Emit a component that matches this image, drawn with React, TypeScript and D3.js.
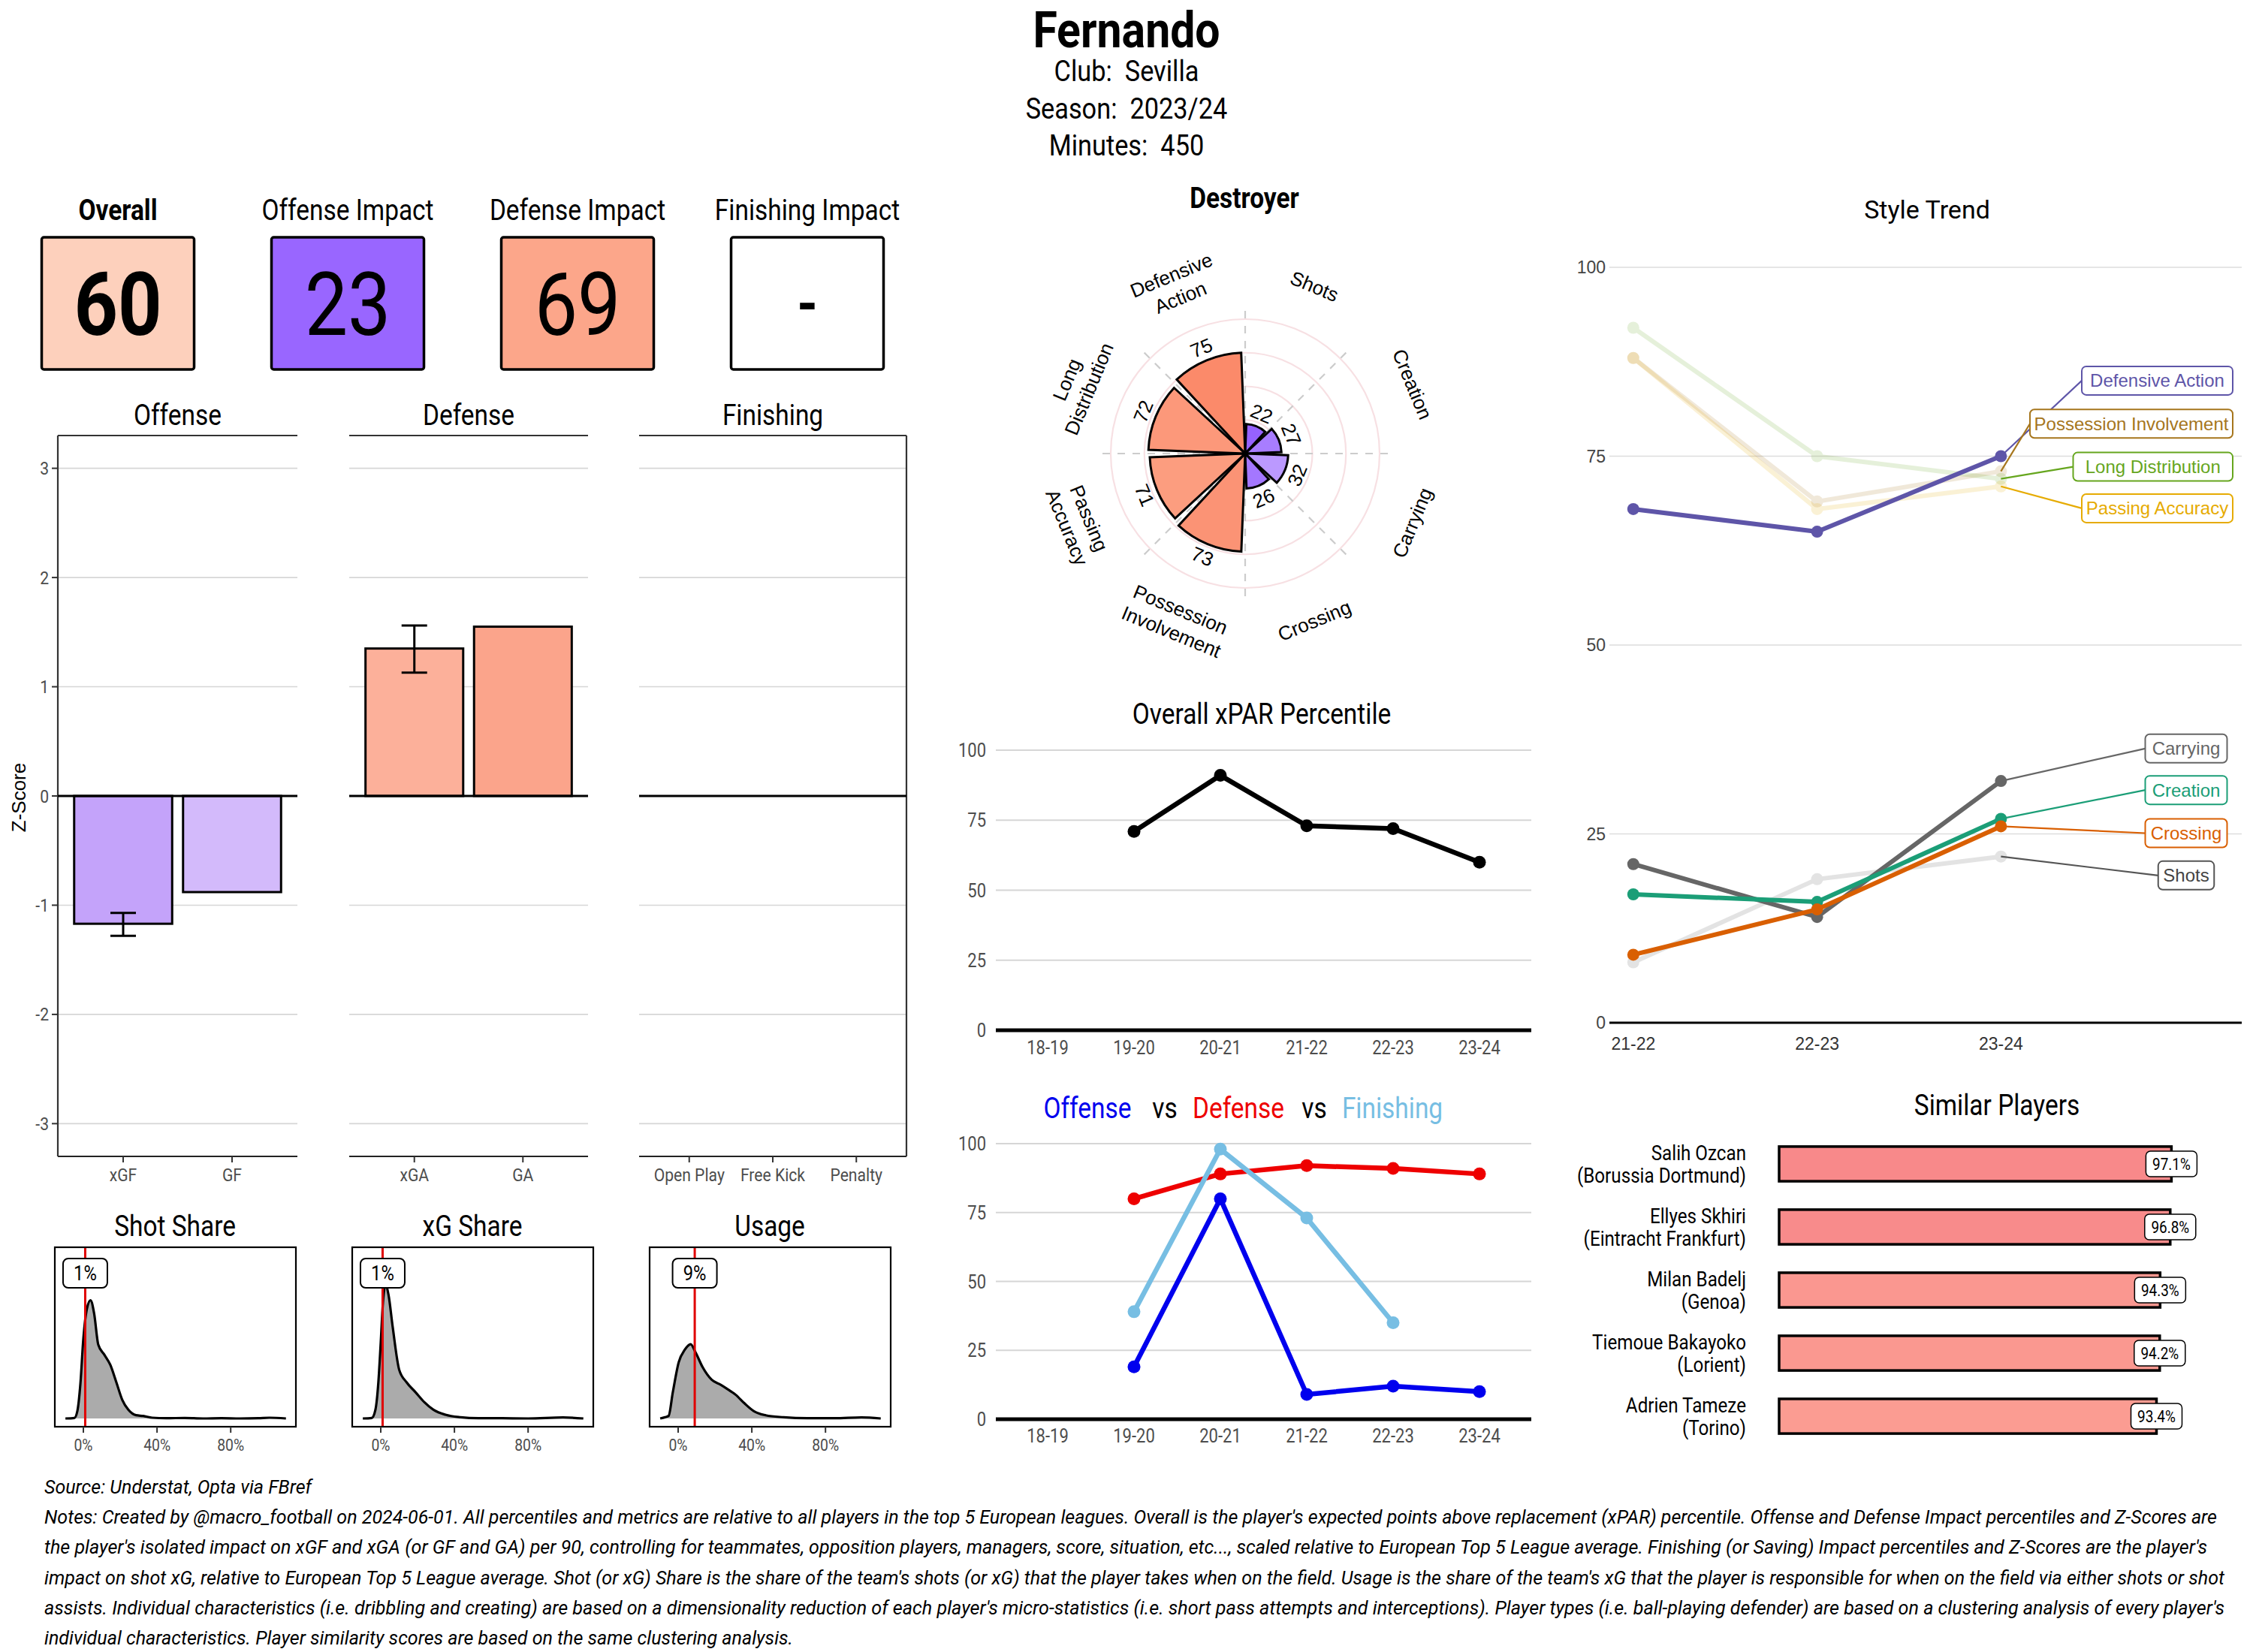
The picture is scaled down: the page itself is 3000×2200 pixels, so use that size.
import React from "react";
import * as d3 from "d3";

// ---------------- data ----------------
const playerName = "Fernando";
const infoLines = ["Club:  Sevilla", "Season:  2023/24", "Minutes:  450"];

const impactLabels = ["Overall", "Offense Impact", "Defense Impact", "Finishing Impact"];
const impactValues: (number | null)[] = [60, 23, 69, null];

const zTicks = [-3, -2, -1, 0, 1, 2, 3];
const offenseCats = ["xGF", "GF"];
const offenseZ = [-1.17, -0.88];
const offenseErr: ([number, number] | null)[] = [[-1.28, -1.07], null];
const defenseCats = ["xGA", "GA"];
const defenseZ = [1.35, 1.55];
const defenseErr: ([number, number] | null)[] = [[1.13, 1.56], null];
const finishingCats = ["Open Play", "Free Kick", "Penalty"];
const finishingZ = [0, 0, 0];
const finishingErr: ([number, number] | null)[] = [null, null, null];

const distTicks = [0, 0.4, 0.8];
const shotShareX = [-0.0975, -0.049, -0.0325, -0.016, 0, 0.0195, 0.039, 0.0585, 0.081, 0.114, 0.146, 0.179, 0.211, 0.244, 0.286, 0.325, 0.374, 0.45, 0.55, 0.65, 0.75, 0.85, 0.95, 1.01, 1.1];
const shotShareD = [0, 0.02, 0.3, 1.4, 3.2, 4.4, 4.73, 4.2, 2.95, 2.55, 2.15, 1.45, 0.75, 0.35, 0.13, 0.1, 0.03, 0.01, 0.02, 0, 0.01, 0, 0.01, 0.03, 0];
const xgShareX = [-0.0975, -0.049, -0.029, -0.013, 0, 0.013, 0.026, 0.042, 0.065, 0.1, 0.14, 0.189, 0.237, 0.286, 0.351, 0.432, 0.53, 0.65, 0.8, 0.99, 1.1];
const xgShareD = [0, 0.02, 0.35, 1.45, 3.05, 4.75, 5.35, 4.95, 3.65, 1.95, 1.45, 1.05, 0.65, 0.35, 0.15, 0.05, 0.01, 0.01, 0, 0.04, 0];
const usageX = [-0.0975, -0.0715, -0.052, -0.029, 0.003, 0.036, 0.068, 0.094, 0.133, 0.182, 0.231, 0.263, 0.312, 0.361, 0.41, 0.475, 0.572, 0.702, 0.85, 0.995, 1.1];
const usageD = [0, 0.05, 0.1, 1.05, 2.25, 2.75, 2.97, 2.65, 2.05, 1.55, 1.35, 1.2, 0.95, 0.6, 0.3, 0.13, 0.05, 0.01, 0.01, 0.04, 0];
const distTitles = ["Shot Share", "xG Share", "Usage"];
const distPlayer = [0.01, 0.01, 0.09];

const radarCats = ["Shots", "Creation", "Carrying", "Crossing", "Possession Involvement", "Passing Accuracy", "Long Distribution", "Defensive Action"];
const radarValues = [22, 27, 32, 26, 73, 71, 72, 75];
const radarGrid = [25, 50, 75, 100];

const seasons = ["18-19", "19-20", "20-21", "21-22", "22-23", "23-24"];
const xparPct: (number | null)[] = [null, 71, 91, 73, 72, 60];
const offensePct: (number | null)[] = [null, 19, 80, 9, 12, 10];
const defensePct: (number | null)[] = [null, 80, 89, 92, 91, 89];
const finishingPct: (number | null)[] = [null, 39, 98, 73, 35, null];
const pctTicks = [0, 25, 50, 75, 100];

const styleSeasons = ["21-22", "22-23", "23-24"];
const styleNames = ["Defensive Action", "Possession Involvement", "Long Distribution", "Passing Accuracy", "Carrying", "Creation", "Crossing", "Shots"];
const styleValues = [
  [68, 65, 75],
  [88, 69, 73],
  [92, 75, 72],
  [88, 68, 71],
  [21, 14, 32],
  [17, 16, 27],
  [9, 15, 26],
  [8, 19, 22],
];
const styleHighlighted = [true, false, false, false, true, true, true, false];

const similarNames = ["Salih Ozcan", "Ellyes Skhiri", "Milan Badelj", "Tiemoue Bakayoko", "Adrien Tameze"];
const similarClubs = ["Borussia Dortmund", "Eintracht Frankfurt", "Genoa", "Lorient", "Torino"];
const similarScores = [97.1, 96.8, 94.3, 94.2, 93.4];

const sourceLine = "Source: Understat, Opta via FBref";
const noteLines = [
  "Notes: Created by @macro_football on 2024-06-01. All percentiles and metrics are relative to all players in the top 5 European leagues. Overall is the player's expected points above replacement (xPAR) percentile. Offense and Defense Impact percentiles and Z-Scores are",
  "the player's isolated impact on xGF and xGA (or GF and GA) per 90, controlling for teammates, opposition players, managers, score, situation, etc..., scaled relative to European Top 5 League average. Finishing (or Saving) Impact percentiles and Z-Scores are the player's",
  "impact on shot xG, relative to European Top 5 League average. Shot (or xG) Share is the share of the team's shots (or xG) that the player takes when on the field. Usage is the share of the team's xG that the player is responsible for when on the field via either shots or shot",
  "assists. Individual characteristics (i.e. dribbling and creating) are based on a dimensionality reduction of each player's micro-statistics (i.e. short pass attempts and interceptions). Player types (i.e. ball-playing defender) are based on a clustering analysis of every player's",
  "individual characteristics. Player similarity scores are based on the same clustering analysis.",
];

// ---------------- layout / style ----------------
const W = 3000;
const H = 2200;
const COND = 0.88;
const CFONT = "Roboto, 'Noto Sans', sans-serif";
const ARIAL = "'Liberation Sans', Arial, sans-serif";
const GRID = "#D6D6D6";
const TICK = "#4D4D4D";

const styleColors = ["#5E55A8", "#A6761D", "#66A61E", "#E6AB02", "#666666", "#1B9E77", "#D95F02", "#555555"];
// label box placement for the style trend (x in px, y in value units)
const styleLabelX = [2973, 2973, 2973, 2973, 2911, 2911, 2911, 2911];
const styleLabelAlign = ["end", "end", "end", "end", "mid", "mid", "mid", "mid"];
const styleLabelY = [85.0, 79.3, 73.6, 68.1, 36.3, 30.8, 25.1, 19.5];
const noteWidths = [2893, 2880, 2903, 2903, 997];

const pctColor = d3
  .scaleLinear<string>()
  .domain([0, 23, 50, 60, 69, 75, 100])
  .range(["#5000FF", "#9966FF", "#FFFFFF", "#FDD0BC", "#FCA68A", "#FB8A6A", "#F5431A"])
  .clamp(true);
const zColor = d3.scaleLinear<string>().domain([-3, 0, 3]).range(["#6813F2", "#FFFFFF", "#F84F1F"]).clamp(true);

type TProps = {
  x: number;
  y: number;
  size: number;
  anchor?: "start" | "middle" | "end";
  weight?: number;
  fill?: string;
  italic?: boolean;
  rotate?: number;
  sx?: number;
  family?: string;
  children: React.ReactNode;
};

// condensed-looking text
const CT = ({ x, y, size, anchor = "middle", weight = 400, fill = "#000", italic = false, rotate = 0, sx = COND, family = CFONT, children }: TProps) => (
  <text
    transform={`translate(${x},${y}) rotate(${rotate}) scale(${sx},1)`}
    fontFamily={family}
    fontSize={size}
    fontWeight={weight}
    fontStyle={italic ? "italic" : "normal"}
    textAnchor={anchor}
    fill={fill}
    style={{ whiteSpace: "pre" }}
  >
    {children}
  </text>
);

// ---------------- header + impact boxes ----------------
const Header = () => (
  <g>
    <CT x={1500} y={63} size={67} weight={700}>
      {playerName}
    </CT>
    {infoLines.map((t, i) => (
      <CT key={t} x={1500} y={108 + i * 49.5} size={39}>
        {t}
      </CT>
    ))}
  </g>
);

const ImpactBoxes = () => {
  const xs = d3.scalePoint<string>().domain(impactLabels).range([157, 1075]);
  return (
    <g>
      {impactLabels.map((lab, i) => {
        const cx = xs(lab)!;
        const v = impactValues[i];
        return (
          <g key={lab}>
            <CT x={cx} y={293} size={38} weight={i === 0 ? 700 : 400}>
              {lab}
            </CT>
            <rect x={cx - 101.5} y={316} width={203} height={176} rx={3} fill={v == null ? "#FFFFFF" : pctColor(v)} stroke="#000" strokeWidth={3.5} />
            <CT x={cx} y={v == null ? 432 : 446} size={v == null ? 80 : 116} weight={i === 0 || v == null ? 700 : 400}>
              {v == null ? "-" : String(v)}
            </CT>
          </g>
        );
      })}
    </g>
  );
};

// ---------------- z-score panels ----------------
const zY = d3.scaleLinear().domain([-3.3, 3.3]).range([1540, 580]);

type ZProps = { x0: number; x1: number; title: string; cats: string[]; vals: number[]; errs: ([number, number] | null)[]; left?: boolean; right?: boolean };
const ZPanel = ({ x0, x1, title, cats, vals, errs, left, right }: ZProps) => {
  const x = d3.scalePoint<string>().domain(cats).range([x0, x1]).padding(0.6);
  const bw = x.step() * 0.9;
  const top = zY.range()[1];
  const bottom = zY.range()[0];
  return (
    <g>
      <CT x={(x0 + x1) / 2} y={566} size={38}>
        {title}
      </CT>
      {zTicks.map((t) => (
        <line key={t} x1={x0} x2={x1} y1={zY(t)} y2={zY(t)} stroke={GRID} strokeWidth={1.6} />
      ))}
      <line x1={x0} x2={x1} y1={top} y2={top} stroke="#333" strokeWidth={2.2} />
      <line x1={x0} x2={x1} y1={bottom} y2={bottom} stroke="#222" strokeWidth={2.2} />
      {left && <line x1={x0} x2={x0} y1={top} y2={bottom} stroke="#333" strokeWidth={2.2} />}
      {right && <line x1={x1} x2={x1} y1={top} y2={bottom} stroke="#333" strokeWidth={2.2} />}
      {left &&
        zTicks.map((t) => (
          <g key={t}>
            <line x1={x0 - 8} x2={x0} y1={zY(t)} y2={zY(t)} stroke="#333" strokeWidth={2} />
            <CT x={x0 - 12} y={zY(t) + 8.5} size={24} anchor="end" fill={TICK}>
              {String(t)}
            </CT>
          </g>
        ))}
      {cats.map((c, i) => {
        const v = vals[i];
        const cx = x(c)!;
        return (
          <g key={c}>
            <rect x={cx - bw / 2} y={zY(Math.max(v, 0))} width={bw} height={Math.abs(zY(v) - zY(0))} fill={zColor(v)} stroke="#000" strokeWidth={3} />
            <line x1={cx} x2={cx} y1={bottom} y2={bottom + 8} stroke="#333" strokeWidth={2} />
            <CT x={cx} y={1573} size={24} fill={TICK}>
              {c}
            </CT>
          </g>
        );
      })}
      <line x1={x0} x2={x1} y1={zY(0)} y2={zY(0)} stroke="#000" strokeWidth={3} />
      {cats.map((c, i) => {
        const e = errs[i];
        if (!e) return null;
        const cx = x(c)!;
        return (
          <g key={"e" + c} stroke="#000" strokeWidth={3}>
            <line x1={cx} x2={cx} y1={zY(e[0])} y2={zY(e[1])} />
            <line x1={cx - 17} x2={cx + 17} y1={zY(e[0])} y2={zY(e[0])} />
            <line x1={cx - 17} x2={cx + 17} y1={zY(e[1])} y2={zY(e[1])} />
          </g>
        );
      })}
    </g>
  );
};

// ---------------- distribution panels ----------------
const dY = d3.scaleLinear().domain([-0.33, 6.85]).range([1900, 1661]);
type DProps = { x0: number; title: string; xs: number[]; ds: number[]; value: number };
const DistPanel = ({ x0, title, xs, ds, value }: DProps) => {
  const x = d3.scaleLinear().domain([-0.155, 1.154]).range([x0, x0 + 321]);
  const pts = xs.map((v, i) => [v, ds[i]] as [number, number]);
  const area = d3
    .area<[number, number]>()
    .x((d) => x(d[0]))
    .y0(dY(0))
    .y1((d) => dY(d[1]))
    .curve(d3.curveMonotoneX);
  const line = d3
    .line<[number, number]>()
    .x((d) => x(d[0]))
    .y((d) => dY(d[1]))
    .curve(d3.curveMonotoneX);
  const vx = x(value);
  return (
    <g>
      <CT x={x0 + 160} y={1646} size={38}>
        {title}
      </CT>
      <path d={area(pts)!} fill="#ABABAB" />
      <path d={line(pts)!} fill="none" stroke="#000" strokeWidth={3.2} strokeLinejoin="round" />
      <line x1={vx} x2={vx} y1={1661} y2={1900} stroke="#E00000" strokeWidth={3} />
      <rect x={vx - 29.5} y={1676} width={59} height={39} rx={7} fill="#fff" stroke="#000" strokeWidth={2} />
      <CT x={vx} y={1705} size={27}>
        {`${Math.round(value * 100)}%`}
      </CT>
      <rect x={x0} y={1661} width={321} height={239} fill="none" stroke="#000" strokeWidth={2.2} />
      {distTicks.map((t) => (
        <g key={t}>
          <line x1={x(t)} x2={x(t)} y1={1900} y2={1908} stroke="#333" strokeWidth={2} />
          <CT x={x(t)} y={1932} size={22} fill={TICK}>
            {`${Math.round(t * 100)}%`}
          </CT>
        </g>
      ))}
    </g>
  );
};

// ---------------- radar ----------------
const Radar = () => {
  const cx = 1658;
  const cy = 604;
  const r = d3.scaleLinear().domain([0, 100]).range([0, 179]);
  const step = (2 * Math.PI) / radarCats.length;
  const pad = step * 0.05;
  const arc = d3.arc<any>();
  const pos = (a: number, rad: number) => [cx + rad * Math.sin(a), cy - rad * Math.cos(a)];
  const rotOf = (a: number) => {
    const deg = (a * 180) / Math.PI;
    return ((deg + 90) % 180) - 90;
  };
  return (
    <g>
      <CT x={1657} y={277} size={38} weight={700}>
        Destroyer
      </CT>
      {radarGrid.map((v) => (
        <circle key={v} cx={cx} cy={cy} r={r(v)} fill="none" stroke="#F7E0E3" strokeWidth={2.2} />
      ))}
      {radarCats.map((c, i) => {
        const [x2, y2] = pos(i * step, r(110));
        return <line key={c} x1={cx} y1={cy} x2={x2} y2={y2} stroke="#CCCCCC" strokeWidth={2.2} strokeDasharray="10,10" />;
      })}
      {radarCats.map((c, i) => (
        <path
          key={c}
          transform={`translate(${cx},${cy})`}
          d={arc({ innerRadius: 0, outerRadius: r(radarValues[i]), startAngle: i * step + pad, endAngle: (i + 1) * step - pad })!}
          fill={pctColor(radarValues[i])}
          stroke="#000"
          strokeWidth={3}
        />
      ))}
      {radarCats.map((c, i) => {
        const a = (i + 0.5) * step;
        const [x, y] = pos(a, r(radarValues[i] + 10));
        return (
          <text key={c} transform={`translate(${x},${y}) rotate(${rotOf(a)})`} fontFamily={ARIAL} fontSize={26} textAnchor="middle" dominantBaseline="central">
            {radarValues[i]}
          </text>
        );
      })}
      {radarCats.map((c, i) => {
        const a = (i + 0.5) * step;
        const [x, y] = pos(a, 241);
        const words = c.split(" ");
        const lh = 32;
        return (
          <text key={c} transform={`translate(${x},${y}) rotate(${rotOf(a)})`} fontFamily={ARIAL} fontSize={26} textAnchor="middle" dominantBaseline="central">
            {words.map((w, k) => (
              <tspan key={w} x={0} y={(k - (words.length - 1) / 2) * lh}>
                {w}
              </tspan>
            ))}
          </text>
        );
      })}
    </g>
  );
};

// ---------------- season charts ----------------
const seasonX = d3.scalePoint<string>().domain(seasons).range([1326, 2039]).padding(0.6);
type SProps = { y0: number; y100: number; series: { vals: (number | null)[]; color: string }[]; labelY: number };
const SeasonChart = ({ y0, y100, series, labelY }: SProps) => {
  const y = d3.scaleLinear().domain([0, 100]).range([y0, y100]);
  const line = d3
    .line<number | null>()
    .defined((d) => d != null)
    .x((_, i) => seasonX(seasons[i])!)
    .y((d) => y(d as number));
  return (
    <g>
      {pctTicks.map((t) => (
        <g key={t}>
          {t > 0 && <line x1={1326} x2={2039} y1={y(t)} y2={y(t)} stroke={GRID} strokeWidth={2} />}
          <CT x={1313} y={y(t) + 9} size={25} anchor="end" fill={TICK}>
            {String(t)}
          </CT>
        </g>
      ))}
      <line x1={1326} x2={2039} y1={y(0)} y2={y(0)} stroke="#000" strokeWidth={5} />
      {seasons.map((s) => (
        <CT key={s} x={seasonX(s)!} y={labelY} size={25} fill={TICK}>
          {s}
        </CT>
      ))}
      {series.map((s, k) => (
        <g key={k}>
          <path d={line(s.vals)!} fill="none" stroke={s.color} strokeWidth={6.5} strokeLinejoin="round" />
          {s.vals.map((v, i) => (v == null ? null : <circle key={i} cx={seasonX(seasons[i])!} cy={y(v)} r={8.5} fill={s.color} />))}
        </g>
      ))}
    </g>
  );
};

// ---------------- style trend ----------------
const StyleTrend = () => {
  const xi = d3.scaleLinear().domain([-0.13, 3.31]).range([2143, 2985]);
  const y = d3.scaleLinear().domain([0, 100]).range([1362, 356]);
  const line = d3
    .line<number>()
    .x((_, i) => xi(i))
    .y((d) => y(d));
  const order = styleNames.map((_, i) => i).sort((a, b) => Number(styleHighlighted[a]) - Number(styleHighlighted[b]));
  return (
    <g>
      <text x={2566} y={291} fontFamily={CFONT} fontSize={34} textAnchor="middle">
        Style Trend
      </text>
      {pctTicks.map((t) => (
        <g key={t}>
          {t > 0 && <line x1={2143} x2={2985} y1={y(t)} y2={y(t)} stroke="#DDDDDD" strokeWidth={1.6} />}
          <text x={2138} y={y(t) + 8} fontFamily={ARIAL} fontSize={23} textAnchor="end" fill="#444">
            {t}
          </text>
        </g>
      ))}
      <line x1={2143} x2={2985} y1={y(0)} y2={y(0)} stroke="#000" strokeWidth={3.2} />
      {styleSeasons.map((s, i) => (
        <text key={s} x={xi(i)} y={1398} fontFamily={ARIAL} fontSize={23} textAnchor="middle" fill="#333">
          {s}
        </text>
      ))}
      {order.map((k) => {
        const vals = styleValues[k];
        const op = styleHighlighted[k] ? 1 : 0.16;
        return (
          <g key={styleNames[k]} opacity={op}>
            <path d={line(vals)!} fill="none" stroke={styleColors[k]} strokeWidth={6} strokeLinejoin="round" />
            {vals.map((v, i) => (
              <circle key={i} cx={xi(i)} cy={y(v)} r={8} fill={styleColors[k]} />
            ))}
          </g>
        );
      })}
      {styleNames.map((n, k) => {
        const w = n.length * 11.5 + 17;
        const cxl = styleLabelAlign[k] === "end" ? styleLabelX[k] - w / 2 : styleLabelX[k];
        const cyl = y(styleLabelY[k]);
        const px = xi(2);
        const py = y(styleValues[k][2]);
        const col = styleColors[k];
        return (
          <g key={"l" + n}>
            <line x1={px} y1={py} x2={cxl - w / 2} y2={cyl} stroke={col} strokeWidth={2.2} />
            <rect x={cxl - w / 2} y={cyl - 19} width={w} height={38} rx={6} fill="#fff" stroke={col} strokeWidth={2} />
            <text x={cxl} y={cyl + 8.5} fontFamily={ARIAL} fontSize={24} textAnchor="middle" fill={k === 7 ? "#444" : col}>
              {n}
            </text>
          </g>
        );
      })}
    </g>
  );
};

// ---------------- similar players ----------------
const Similar = () => {
  const x = d3.scaleLinear().domain([0, 100]).range([2369, 2907]);
  const yb = d3.scaleBand<string>().domain(similarNames).range([1508, 1928]).paddingInner(0.45).paddingOuter(0.225);
  const col = d3.scaleLinear<string>().domain([93.4, 97.1]).range(["#FB9C92", "#F8898A"]);
  return (
    <g>
      <CT x={2659} y={1485} size={38}>
        Similar Players
      </CT>
      {similarNames.map((n, i) => {
        const y0 = yb(n)!;
        const bh = yb.bandwidth();
        const cy = y0 + bh / 2;
        const v = similarScores[i];
        return (
          <g key={n}>
            <CT x={2325} y={cy - 5} size={27.5} anchor="end">
              {n}
            </CT>
            <CT x={2325} y={cy + 25} size={27.5} anchor="end">
              {`(${similarClubs[i]})`}
            </CT>
            <rect x={x(0)} y={y0} width={x(v) - x(0)} height={bh} fill={col(v)} stroke="#000" strokeWidth={3.5} />
            <rect x={x(v) - 34} y={cy - 17} width={68} height={34} rx={6} fill="#fff" stroke="#000" strokeWidth={1.5} />
            <CT x={x(v)} y={cy + 7.5} size={21.5}>
              {`${v.toFixed(1)}%`}
            </CT>
          </g>
        );
      })}
    </g>
  );
};

// ---------------- notes ----------------
const Notes = () => (
  <g fontFamily={CFONT} fontStyle="italic" fontSize={25.5}>
    <text x={59} y={1989} textLength={356} lengthAdjust="spacingAndGlyphs">
      {sourceLine}
    </text>
    {noteLines.map((l, i) => (
      <text key={i} x={59} y={2029 + i * 40.3} textLength={noteWidths[i]} lengthAdjust="spacingAndGlyphs">
        {l}
      </text>
    ))}
  </g>
);

export default function App() {
  return (
    <svg width={W} height={H} viewBox={`0 0 ${W} ${H}`} style={{ position: "absolute", left: 0, top: 0, background: "#fff", display: "block" }}>
      <rect width={W} height={H} fill="#fff" />
      <Header />
      <ImpactBoxes />
      <ZPanel x0={77} x1={396} title="Offense" cats={offenseCats} vals={offenseZ} errs={offenseErr} left />
      <ZPanel x0={465} x1={783} title="Defense" cats={defenseCats} vals={defenseZ} errs={defenseErr} />
      <ZPanel x0={851} x1={1207} title="Finishing" cats={finishingCats} vals={finishingZ} errs={finishingErr} right />
      <text transform="translate(34,1062) rotate(-90)" fontFamily={ARIAL} fontSize={26} textAnchor="middle">
        Z-Score
      </text>
      <DistPanel x0={73} title={distTitles[0]} xs={shotShareX} ds={shotShareD} value={distPlayer[0]} />
      <DistPanel x0={469} title={distTitles[1]} xs={xgShareX} ds={xgShareD} value={distPlayer[1]} />
      <DistPanel x0={865} title={distTitles[2]} xs={usageX} ds={usageD} value={distPlayer[2]} />
      <Radar />
      <CT x={1680} y={964} size={38}>
        Overall xPAR Percentile
      </CT>
      <SeasonChart y0={1372} y100={999} series={[{ vals: xparPct, color: "#000000" }]} labelY={1404} />
      <g>
        <CT x={1448} y={1489} size={38} fill="#0000EE">
          Offense
        </CT>
        <CT x={1551} y={1489} size={38}>
          vs
        </CT>
        <CT x={1649} y={1489} size={38} fill="#EE0000">
          Defense
        </CT>
        <CT x={1750} y={1489} size={38}>
          vs
        </CT>
        <CT x={1854} y={1489} size={38} fill="#77BEE3">
          Finishing
        </CT>
      </g>
      <SeasonChart
        y0={1890}
        y100={1523}
        series={[
          { vals: defensePct, color: "#EE0000" },
          { vals: finishingPct, color: "#77BEE3" },
          { vals: offensePct, color: "#0000EE" },
        ]}
        labelY={1921}
      />
      <StyleTrend />
      <Similar />
      <Notes />
    </svg>
  );
}
